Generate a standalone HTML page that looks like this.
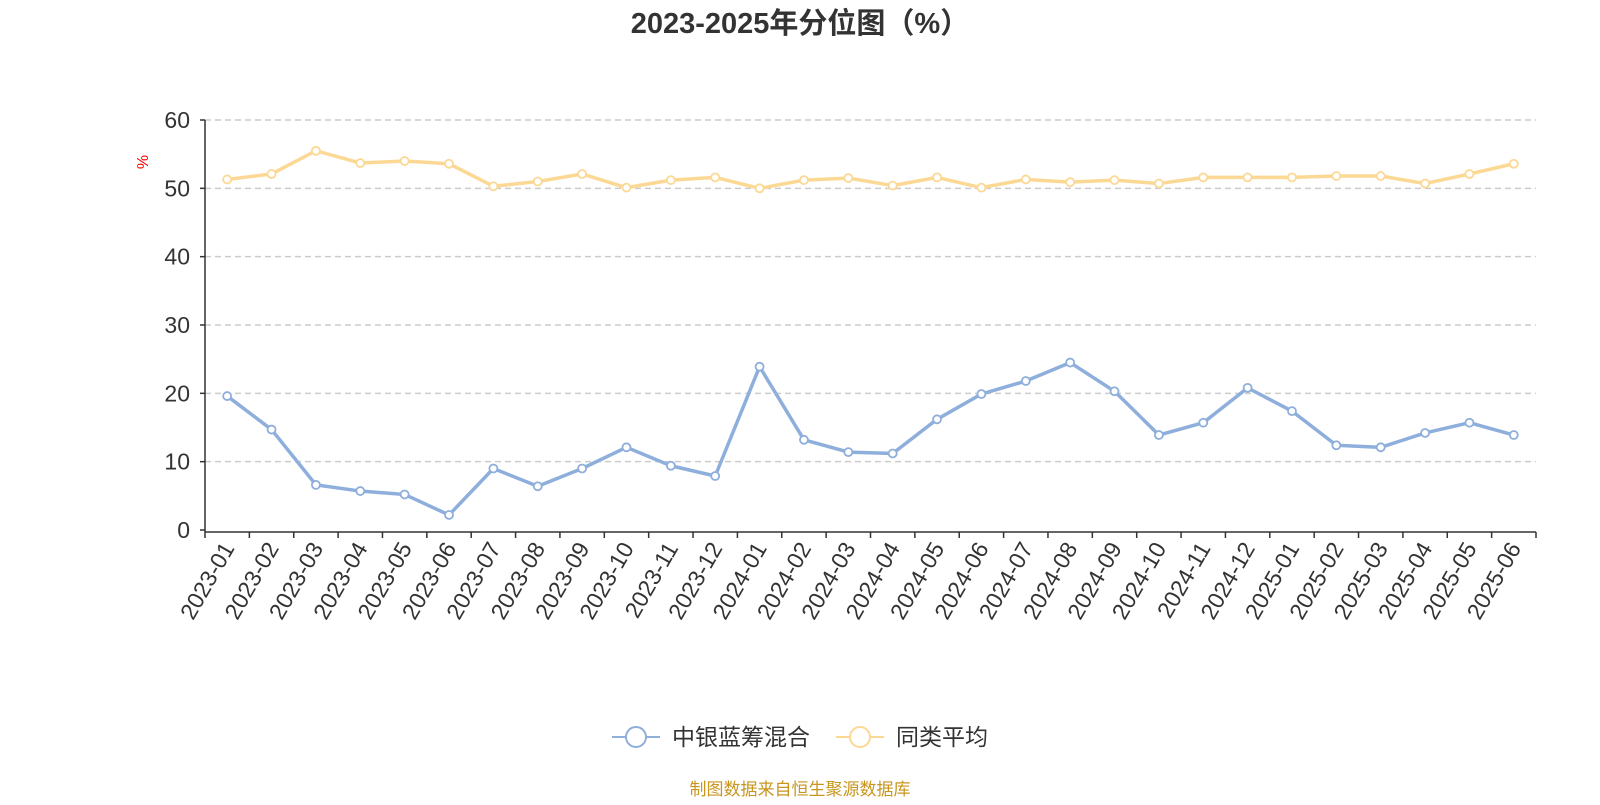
<!DOCTYPE html>
<html><head><meta charset="utf-8"><style>
body{margin:0;background:#fff;width:1600px;height:800px;overflow:hidden;font-family:"Liberation Sans","Noto Sans CJK SC",sans-serif}
</style></head><body>
<svg id="chart" width="1600" height="800" xmlns="http://www.w3.org/2000/svg" font-family="Liberation Sans, Noto Sans CJK SC, sans-serif">
<text x="800" y="33" text-anchor="middle" font-size="29" font-weight="bold" fill="#333">2023-2025年分位图（%）</text>
<text x="148" y="162" font-size="16" fill="red" transform="rotate(-90 148 162)" text-anchor="middle">%</text>
<g id="grid"></g><g id="axes"></g><g id="series"></g>
<g>
<g><line x1="612" y1="737" x2="660" y2="737" stroke="#8eaedc" stroke-width="2"/><circle cx="636" cy="737" r="10" fill="#fff" stroke="#8eaedc" stroke-width="2"/><text x="672" y="745" font-size="23" fill="#333">中银蓝筹混合</text></g>
<g><line x1="836" y1="737" x2="884" y2="737" stroke="#fcd895" stroke-width="2"/><circle cx="860" cy="737" r="10" fill="#fff" stroke="#fcd895" stroke-width="2"/><text x="896" y="745" font-size="23" fill="#333">同类平均</text></g>
</g>
<text x="800" y="795" text-anchor="middle" font-size="17" fill="#c8961e">制图数据来自恒生聚源数据库</text>
</svg>
<script>
const categories=["2023-01","2023-02","2023-03","2023-04","2023-05","2023-06","2023-07","2023-08","2023-09","2023-10","2023-11","2023-12","2024-01","2024-02","2024-03","2024-04","2024-05","2024-06","2024-07","2024-08","2024-09","2024-10","2024-11","2024-12","2025-01","2025-02","2025-03","2025-04","2025-05","2025-06"];
const fundValues=[19.6,14.7,6.6,5.7,5.2,2.2,9.0,6.4,9.0,12.1,9.4,7.9,23.9,13.2,11.4,11.2,16.2,19.9,21.8,24.5,20.3,13.9,15.7,20.8,17.4,12.4,12.1,14.2,15.7,13.9];
const avgValues=[51.3,52.1,55.5,53.7,54.0,53.6,50.3,51.0,52.1,50.1,51.2,51.6,50.0,51.2,51.5,50.4,51.6,50.1,51.3,50.9,51.2,50.7,51.6,51.6,51.6,51.8,51.8,50.7,52.1,53.6];
const yTicks=[0,10,20,30,40,50,60];
const NS="http://www.w3.org/2000/svg";
const L=205,R=1536,T=120,B=530,yMax=60;
const bw=(R-L)/categories.length;
const xs=i=>L+bw*(i+0.5);
const ys=v=>B-(v/yMax)*(B-T);
function mk(tag,attrs,parent){const e=document.createElementNS(NS,tag);for(const k in attrs)e.setAttribute(k,attrs[k]);parent.appendChild(e);return e;}
const grid=document.getElementById('grid'),axes=document.getElementById('axes'),series=document.getElementById('series');
yTicks.forEach(t=>{
 if(t>0){const g=mk('line',{x1:L,x2:R,y1:ys(t),y2:ys(t),stroke:'#ccc','stroke-dasharray':'6,4','stroke-width':1.5},grid);
 
 }
 const tx=mk('text',{x:L-15,y:ys(t)+8,'text-anchor':'end','font-size':23,fill:'#333'},axes);tx.textContent=t;
 
 
 const tk=mk('line',{x1:L-5,x2:L,y1:ys(t),y2:ys(t),stroke:'#333','stroke-width':1.5},axes);
 
 
});
const ya=mk('line',{x1:L,x2:L,y1:T,y2:B+2,stroke:'#333','stroke-width':1.5},axes);


const xa=mk('line',{x1:L,x2:R,y1:B+2,y2:B+2,stroke:'#333','stroke-width':1.5},axes);


for(let i=0;i<=categories.length;i++){const tk=mk('line',{x1:L+bw*i,x2:L+bw*i,y1:B+2,y2:B+8,stroke:'#333','stroke-width':1.5},axes);
 
 }
categories.forEach((c,i)=>{const x=xs(i)+8,y=B+18;
 const t=mk('text',{x:x,y:y,'text-anchor':'end','font-size':23,fill:'#333',transform:`rotate(-60 ${x} ${y})`},axes);t.textContent=c;
 
 });
function drawSeries(vals,color,name){
 const p=mk('polyline',{points:vals.map((v,i)=>xs(i)+','+ys(v)).join(' '),fill:'none',stroke:color,'stroke-width':3.5,'stroke-linejoin':'round'},series);
 
 
 vals.forEach((v,i)=>{const c=mk('circle',{cx:xs(i),cy:ys(v),r:4,fill:'#fff',stroke:color,'stroke-width':1.8},series);
  
  });
}
drawSeries(avgValues,'#fcd895','average');
drawSeries(fundValues,'#8eaedc','fund');
</script>
</body></html>
